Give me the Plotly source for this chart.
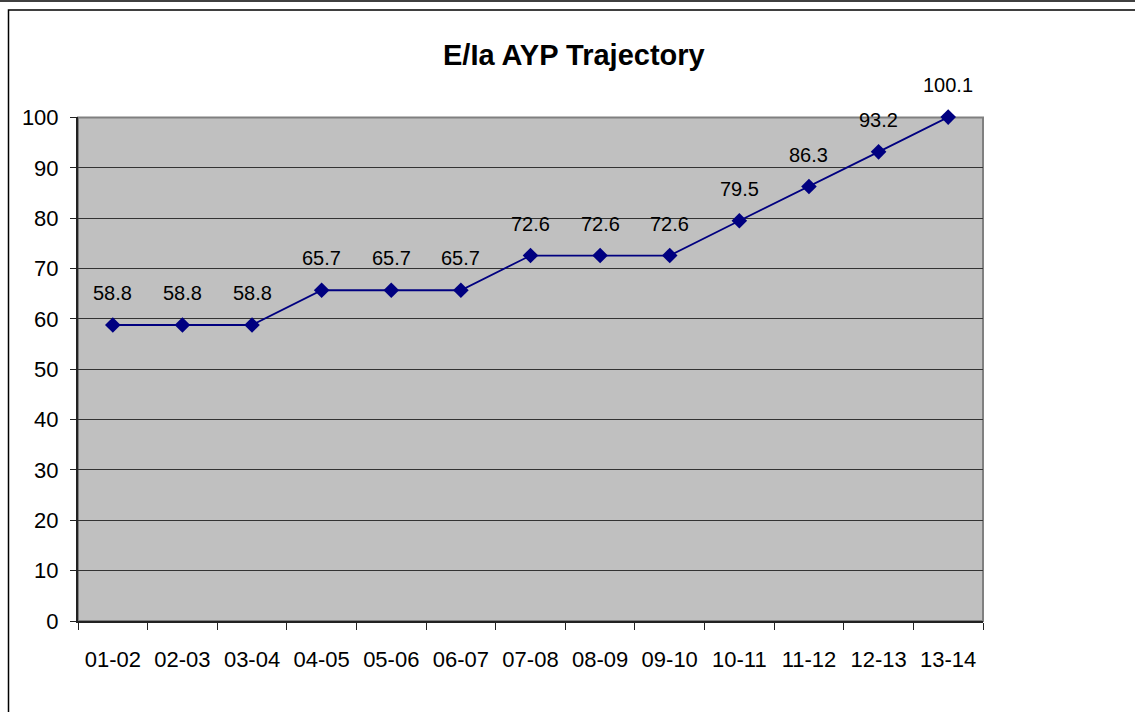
import plotly.graph_objects as go

categories = ["01-02", "02-03", "03-04", "04-05", "05-06", "06-07", "07-08",
              "08-09", "09-10", "10-11", "11-12", "12-13", "13-14"]
values = [58.8, 58.8, 58.8, 65.7, 65.7, 65.7, 72.6, 72.6, 72.6, 79.5, 86.3, 93.2, 100.1]
title_text = "E/Ia AYP Trajectory"
y_ticks = [0, 10, 20, 30, 40, 50, 60, 70, 80, 90, 100]

W, H = 1135, 712
YMAX = 100.12
L, R, B = 78, 983, 621
T = B - (B - 118) * YMAX / 100.0
pw, ph = R - L, B - T

def px_x(px):
    return (px - L) / pw

def px_y(py):
    return (B - py) / ph

FONT = "Liberation Sans, Arial, sans-serif"
NAVY = "#000080"

fig = go.Figure()
fig.add_trace(go.Scatter(
    x=categories, y=values, mode="lines+markers",
    line=dict(color=NAVY, width=1.8),
    marker=dict(symbol="diamond", size=12, color=NAVY),
    cliponaxis=False, showlegend=False, hoverinfo="x+y",
))

for c, v in zip(categories, values):
    fig.add_annotation(x=c, y=v, text=f"{v:.1f}", showarrow=False,
                       yshift=32, font=dict(family=FONT, size=20, color="black"))

# outer frame lines
fig.add_shape(type="line", xref="paper", yref="paper",
              x0=px_x(-10), x1=px_x(W + 10), y0=px_y(1.5), y1=px_y(1.5),
              line=dict(color="black", width=1.5))
fig.add_shape(type="rect", xref="paper", yref="paper",
              x0=px_x(8.5), x1=px_x(W + 20), y0=px_y(10.5), y1=px_y(H + 20),
              line=dict(color="black", width=1.5))
# plot area border (gray)
fig.add_shape(type="rect", xref="paper", yref="paper",
              x0=0, x1=1, y0=0, y1=px_y(118), layer="below",
              line=dict(color="#808080", width=2))

fig.add_annotation(xref="paper", yref="paper", x=px_x(574), y=px_y(55),
                   xanchor="center", yanchor="middle", showarrow=False,
                   text=f"<b>{title_text}</b>",
                   font=dict(family=FONT, size=29, color="black"))

fig.update_layout(
    width=W, height=H,
    margin=dict(l=L, r=W - R, t=T, b=H - B, pad=0),
    paper_bgcolor="white", plot_bgcolor="#C0C0C0",
    font=dict(family=FONT, size=22, color="black"),
    xaxis=dict(
        type="category", range=[-0.5, len(categories) - 0.5],
        tickson="boundaries", ticks="outside", ticklen=7, tickcolor="#222",
        showgrid=False, showline=True, linecolor="#222", linewidth=2,
        tickfont=dict(family=FONT, size=22, color="black"),
        ticklabelstandoff=18, zeroline=False,
    ),
    yaxis=dict(
        range=[0, YMAX], tickvals=y_ticks, ticks="outside", ticklen=6,
        tickcolor="#222", showline=True, linecolor="#222", linewidth=2,
        showgrid=True, gridcolor="#333333", gridwidth=1.3,
        tickfont=dict(family=FONT, size=22, color="black"),
        ticklabelstandoff=7, zeroline=False,
    ),
)

fig.write_html("out.html", config={"displayModeBar": False})
with open("out.html", "r", encoding="utf-8") as f:
    html = f.read()
html = html.replace("<body>", '<body style="margin:0;padding:0;">', 1)
with open("out.html", "w", encoding="utf-8") as f:
    f.write(html)
